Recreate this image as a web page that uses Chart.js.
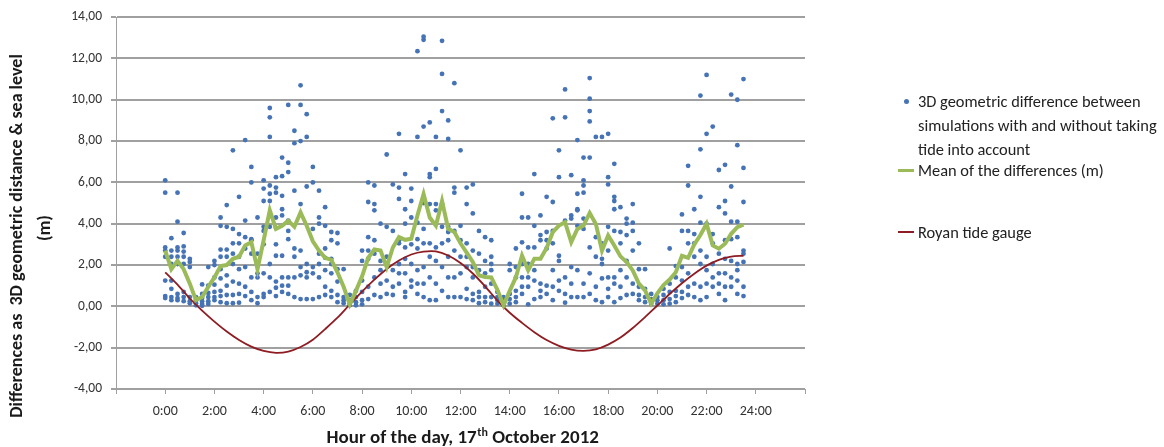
<!DOCTYPE html>
<html>
<head>
<meta charset="utf-8">
<title>Tide and 3D geometric differences</title>
<script src="https://cdn.jsdelivr.net/npm/chart.js@4.4.1/dist/chart.umd.min.js"></script>
<style>
  html, body { margin: 0; padding: 0; background: #fff; }
  #wrap { position: relative; width: 1164px; height: 447px; }
  #legend { position: absolute; left: 0; top: 0; font-family: Carlito, Lato, "Open Sans", sans-serif; font-size: 16.4px; color: #222; }
  .item { position: absolute; left: 918px; line-height: 24px; white-space: nowrap; }
  .mark { position: absolute; }
</style>
</head>
<body>
<div id="wrap">
  <canvas id="chart" width="1164" height="447"></canvas>
  <div id="legend"></div>
</div>
<script>
// time slots of the individual differences and of the mean (every 15 min)
const slotTimes = [
  '0:00','0:15','0:30','0:45','1:00','1:15','1:30','1:45','2:00','2:15','2:30','2:45',
  '3:00','3:15','3:30','3:45','4:00','4:15','4:30','4:45','5:00','5:15','5:30','5:45',
  '6:00','6:15','6:30','6:45','7:00','7:15','7:30','7:45','8:00','8:15','8:30','8:45',
  '9:00','9:15','9:30','9:45','10:00','10:15','10:30','10:45','11:00','11:15','11:30','11:45',
  '12:00','12:15','12:30','12:45','13:00','13:15','13:30','13:45','14:00','14:15','14:30','14:45',
  '15:00','15:15','15:30','15:45','16:00','16:15','16:30','16:45','17:00','17:15','17:30','17:45',
  '18:00','18:15','18:30','18:45','19:00','19:15','19:30','19:45','20:00','20:15','20:30','20:45',
  '21:00','21:15','21:30','21:45','22:00','22:15','22:30','22:45','23:00','23:15','23:30'
];

// 3D geometric differences (m), one list per time slot
const diffValues = [
  [6.1, 5.5, 2.85, 2.7, 2.4, 1.25, 0.5, 0.4],
  [3.3, 2.7, 2.4, 2.05, 1.25, 0.85, 0.45, 0.3],
  [5.5, 4.1, 2.85, 2.7, 2.4, 2.05, 0.6, 0.4, 0.3],
  [3.55, 2.9, 2.65, 2.4, 2.05, 0.7, 0.45, 0.25],
  [2.3, 2.15, 1.9, 0.45, 0.25, 0.15],
  [0.45, 0.3, 0.15, 0.05],
  [1.06, 0.6, 0.4, 0.25, 0.12, 0.03],
  [1.9, 1.0, 0.65, 0.45, 0.25, 0.12],
  [2.2, 2.0, 1.4, 1.05, 0.7, 0.45, 0.3],
  [4.3, 3.9, 2.75, 2.4, 1.8, 1.35, 0.75, 0.5, 0.2],
  [4.9, 3.85, 2.75, 2.4, 1.5, 1.0, 0.55, 0.15],
  [7.55, 3.75, 3.05, 2.55, 2.05, 1.2, 0.55, 0.15],
  [5.3, 3.5, 3.05, 2.4, 1.8, 1.1, 0.6, 0.18],
  [8.05, 4.15, 3.35, 2.8, 1.9, 0.95, 0.5],
  [6.75, 6.0, 3.25, 3.2, 2.55, 1.4, 0.7, 0.3],
  [4.3, 2.55, 2.05, 1.6, 1.4, 0.45, 0.15],
  [6.1, 5.7, 5.1, 3.85, 3.65, 3.0, 1.6, 0.6, 0.45],
  [9.6, 9.15, 8.2, 5.85, 5.45, 5.1, 3.85, 2.05, 1.4, 0.7],
  [6.25, 5.75, 5.5, 4.3, 3.8, 3.0, 2.45, 1.2, 0.9, 0.5],
  [7.2, 6.3, 5.35, 4.7, 4.4, 2.45, 1.4, 1.0, 0.7],
  [9.75, 6.95, 6.5, 4.15, 3.65, 3.25, 1.4, 1.0, 0.6],
  [8.5, 7.9, 5.6, 2.8, 2.4, 1.4, 0.45],
  [10.7, 9.75, 8.0, 4.95, 2.7, 1.9, 1.5, 0.35],
  [9.3, 8.2, 5.8, 2.05, 1.65, 1.4, 0.35],
  [6.75, 6.0, 3.75, 1.9, 1.6, 0.35],
  [5.6, 4.3, 4.0, 2.55, 2.05, 1.4, 0.45],
  [4.8, 3.9, 2.8, 2.35, 1.75, 0.95, 0.55],
  [3.6, 3.2, 2.3, 2.05, 1.6, 0.75, 0.45],
  [3.55, 3.05, 1.8, 1.2, 0.55, 0.2],
  [1.8, 0.45, 0.3, 0.15],
  [0.55, 0.3, 0.13, 0.05],
  [0.75, 0.45, 0.2, 0.05],
  [2.7, 2.2, 1.25, 0.7, 0.3, 0.1],
  [6.0, 5.05, 3.35, 2.7, 2.3, 0.95, 0.35],
  [5.85, 4.95, 4.65, 3.2, 2.55, 1.4, 0.55],
  [4.0, 2.2, 1.75, 1.1, 0.45],
  [7.35, 3.85, 2.4, 1.25, 0.6],
  [5.9, 3.65, 1.75, 0.95, 0.55],
  [8.35, 5.75, 5.2, 3.2, 3.05, 2.05, 1.6, 1.1],
  [6.4, 4.7, 4.0, 2.85, 2.3, 1.6, 0.7, 0.45],
  [5.7, 5.1, 4.3, 3.0, 2.05, 1.25, 0.95],
  [12.35, 8.2, 4.05, 3.25, 2.8, 1.75, 1.1, 0.6],
  [13.05, 12.9, 8.7, 5.0, 3.75, 3.05, 1.9, 1.1, 0.45],
  [8.9, 6.4, 6.25, 4.95, 3.05, 2.4, 1.4, 0.3],
  [8.2, 6.65, 4.95, 4.65, 2.85, 2.2, 1.1, 0.3],
  [12.85, 11.25, 9.45, 4.95, 3.85, 3.05, 1.9, 0.75],
  [9.0, 8.1, 3.85, 3.6, 3.2, 2.4, 1.4, 0.45],
  [10.8, 5.75, 5.5, 3.65, 2.7, 1.4, 0.45],
  [7.55, 3.9, 3.2, 2.4, 1.6, 0.45],
  [5.75, 4.95, 3.05, 2.4, 1.9, 0.85, 0.35],
  [5.9, 4.5, 2.7, 1.9, 1.4, 0.6, 0.3],
  [3.65, 2.55, 1.75, 0.7, 0.45, 0.15],
  [3.35, 2.2, 1.6, 0.95, 0.45, 0.2],
  [3.2, 2.4, 2.05, 1.75, 1.1, 0.45, 0.13],
  [0.7, 0.45, 0.3, 0.13],
  [0.45, 0.3, 0.13, 0.05],
  [2.05, 1.75, 0.6, 0.35, 0.13],
  [2.8, 1.9, 1.4, 0.75, 0.45, 0.2],
  [5.45, 4.3, 3.1, 2.05, 1.4, 0.95, 0.6],
  [4.3, 2.85, 2.05, 1.4, 0.95, 0.1],
  [6.4, 3.9, 2.85, 1.75, 1.25, 0.35],
  [4.4, 3.45, 3.2, 1.1, 0.75, 0.45],
  [5.3, 3.6, 3.2, 2.8, 1.0, 0.6],
  [9.1, 5.05, 3.65, 3.05, 1.75, 0.95, 0.3],
  [7.55, 6.25, 2.45, 2.2, 1.25, 0.75],
  [10.5, 9.15, 4.15, 1.4, 0.6, 0.18],
  [6.35, 4.4, 4.25, 1.9, 1.1, 0.45],
  [8.05, 5.45, 4.7, 4.65, 3.9, 1.75, 0.45],
  [7.2, 6.1, 5.85, 5.5, 4.25, 3.75, 1.1, 0.45],
  [11.05, 10.05, 9.45, 8.95, 7.2, 2.85, 1.6, 0.6],
  [8.2, 3.35, 2.4, 0.95, 0.3],
  [8.2, 3.05, 2.3, 2.05, 1.35, 0.2],
  [8.35, 6.25, 5.9, 3.85, 2.7, 1.4, 0.85, 0.45],
  [6.9, 5.3, 5.1, 4.7, 3.65, 1.4, 1.1, 0.2],
  [4.8, 3.6, 3.05, 1.75, 0.95, 0.4],
  [4.25, 4.0, 3.45, 2.2, 1.4, 0.55],
  [4.95, 4.05, 3.65, 2.7, 1.1, 0.6],
  [3.05, 1.8, 0.95, 0.55, 0.3],
  [1.8, 0.85, 0.45, 0.2],
  [0.6, 0.35, 0.13],
  [0.45, 0.3, 0.13],
  [0.85, 0.55, 0.3, 0.1],
  [2.8, 1.1, 0.7, 0.35, 0.13],
  [1.95, 1.4, 0.75, 0.5, 0.2],
  [4.45, 3.65, 1.9, 1.25, 0.7, 0.4],
  [6.8, 5.85, 3.65, 3.05, 1.6, 0.95, 0.55],
  [4.7, 3.5, 3.05, 2.4, 1.1, 0.45],
  [10.2, 7.6, 5.3, 4.05, 2.7, 2.05, 0.95, 0.3],
  [11.2, 8.35, 4.0, 2.4, 1.75, 1.1, 0.45],
  [8.7, 3.5, 3.05, 2.05, 1.4, 0.95],
  [6.6, 4.8, 2.55, 1.6, 1.1, 0.6],
  [6.85, 5.1, 4.5, 3.2, 2.3, 1.6, 0.95, 0.3],
  [10.25, 5.8, 4.1, 3.25, 2.2, 1.4, 0.95],
  [10.0, 7.8, 4.1, 3.35, 2.05, 1.75, 1.25, 0.6],
  [11.0, 6.7, 5.05, 2.7, 2.55, 2.15, 0.95, 0.5]
];

// mean of the differences (m), same slots
const meanValues = [
  2.70, 1.80, 2.20, 1.80, 1.10, 0.30, 0.45, 0.95, 1.40, 1.95, 2.00, 2.30,
  2.40, 2.95, 3.10, 1.80, 3.20, 4.65, 3.75, 3.90, 4.15, 3.85, 4.55, 3.90,
  3.15, 2.70, 2.35, 2.25, 1.65, 0.95, 0.10, 0.75, 1.45, 2.35, 2.75, 2.70,
  1.90, 2.85, 3.35, 3.22, 3.27, 4.40, 5.44, 4.30, 3.90, 5.10, 3.75, 3.60,
  3.05, 2.60, 2.15, 1.50, 1.42, 1.40, 0.80, 0.05, 0.75, 1.40, 2.46, 1.74,
  2.30, 2.30, 2.83, 3.59, 3.91, 4.07, 3.11, 3.75, 3.91, 4.52, 3.99, 2.70,
  3.43, 2.95, 2.42, 2.14, 1.74, 1.10, 0.77, 0.13, 0.63, 1.03, 1.30, 1.65,
  2.45, 2.35, 3.00, 3.45, 4.00, 2.95, 2.79, 3.03, 3.51, 3.83, 3.95
];

// Royan tide gauge (m), every 30 min
const tideTimes = [
  '0:00','0:30','1:00','1:30','2:00','2:30','3:00','3:30','4:00','4:30','5:00','5:30',
  '6:00','6:30','7:00','7:30','8:00','8:30','9:00','9:30','10:00','10:30','11:00','11:30',
  '12:00','12:30','13:00','13:30','14:00','14:30','15:00','15:30','16:00','16:30','17:00','17:30',
  '18:00','18:30','19:00','19:30','20:00','20:30','21:00','21:30','22:00','22:30','23:00','23:30'
];
const tideValues = [
  1.65, 1.05, 0.38, -0.21, -0.74, -1.22, -1.63, -1.95, -2.16, -2.25, -2.19, -1.97,
  -1.62, -1.10, -0.55, 0.09, 0.71, 1.29, 1.81, 2.22, 2.51, 2.65, 2.66, 2.46,
  2.10, 1.59, 0.97, 0.28, -0.31, -0.80, -1.25, -1.63, -1.91, -2.09, -2.15, -2.08,
  -1.85, -1.51, -1.05, -0.52, 0.04, 0.60, 1.12, 1.58, 1.97, 2.25, 2.41, 2.45
];

const xTicks = [-2, 0, 2, 4, 6, 8, 10, 12, 14, 16, 18, 20, 22, 24, 26];
const seriesNames = [
  ['3D geometric difference between', 'simulations with and without taking', 'tide into account'],
  ['Mean of the differences (m)'],
  ['Royan tide gauge']
];
const yTitle = ['Differences as  3D geometric distance & sea level', '(m)'];
const xTitle = ['Hour of the day, 17', 'th', ' October 2012'];

const FONT = 'Carlito, Lato, "Open Sans", sans-serif';
const toHours = (t) => { const p = t.split(':'); return +p[0] + (+p[1]) / 60; };

const diffPoints = [];
diffValues.forEach((vals, i) => vals.forEach(v => diffPoints.push({ x: toHours(slotTimes[i]), y: v })));
const meanPoints = meanValues.map((v, i) => ({ x: toHours(slotTimes[i]), y: v }));
const tidePoints = tideValues.map((v, i) => ({ x: toHours(tideTimes[i]), y: v }));

const colors = ['#4573b5', '#9bbb59', '#8e1c22'];

// axis titles drawn by hand (superscript in the x title, 2-line y title)
const axisTitles = {
  id: 'axisTitles',
  afterDraw(chart) {
    const { ctx, chartArea } = chart;
    ctx.save();
    ctx.fillStyle = '#1a1a1a';
    ctx.font = 'bold 18px ' + FONT;
    ctx.textAlign = 'center';
    ctx.textBaseline = 'middle';
    ctx.save();
    ctx.translate(17, 236);
    ctx.rotate(-Math.PI / 2);
    ctx.fillText(yTitle[0], 0, 0);
    ctx.restore();
    ctx.save();
    ctx.translate(45, 228);
    ctx.rotate(-Math.PI / 2);
    ctx.fillText(yTitle[1], 0, 0);
    ctx.restore();

    // x title
    const big = 'bold 19px ' + FONT, small = 'bold 12px ' + FONT;
    ctx.font = big; const w1 = ctx.measureText(xTitle[0]).width, w3 = ctx.measureText(xTitle[2]).width;
    ctx.font = small; const w2 = ctx.measureText(xTitle[1]).width;
    let x = (chartArea.left + chartArea.right) / 2 - (w1 + w2 + w3) / 2 + 2;
    const y = 443;
    ctx.textAlign = 'left';
    ctx.textBaseline = 'alphabetic';
    ctx.font = big; ctx.fillText(xTitle[0], x, y); x += w1;
    ctx.font = small; ctx.fillText(xTitle[1], x + 0.5, y - 7); x += w2 + 0.5;
    ctx.font = big; ctx.fillText(xTitle[2], x, y);
    ctx.restore();
  }
};

new Chart(document.getElementById('chart'), {
  type: 'scatter',
  data: {
    datasets: [
      {
        label: seriesNames[0].join(' '),
        data: diffPoints,
        backgroundColor: colors[0],
        borderColor: colors[0],
        borderWidth: 0,
        pointRadius: 2.4,
        pointHoverRadius: 2.4,
        order: 3
      },
      {
        type: 'line',
        label: seriesNames[1][0],
        data: meanPoints,
        borderColor: colors[1],
        borderWidth: 4,
        pointRadius: 0,
        tension: 0,
        fill: false,
        order: 1
      },
      {
        type: 'line',
        label: seriesNames[2][0],
        data: tidePoints,
        borderColor: colors[2],
        borderWidth: 1.8,
        pointRadius: 0,
        tension: 0.3,
        fill: false,
        order: 2
      }
    ]
  },
  options: {
    responsive: false,
    animation: false,
    layout: { padding: { top: 16, right: 359, left: 0, bottom: 0 } },
    plugins: { legend: { display: false }, tooltip: { enabled: false } },
    scales: {
      x: {
        type: 'linear',
        min: -2,
        max: 26,
        afterFit(scale) { scale.height = 58; },
        afterBuildTicks(scale) { scale.ticks = xTicks.map(v => ({ value: v })); },
        ticks: {
          autoSkip: false,
          maxRotation: 0,
          padding: 9,
          color: '#333',
          font: { size: 14, family: FONT },
          callback: (v) => (v < 0 || v > 24 ? '' : v + ':00')
        },
        grid: { drawOnChartArea: false, drawTicks: true, tickLength: 5, color: '#a0a0a0' },
        border: { color: '#a0a0a0', width: 1 }
      },
      y: {
        min: -4,
        max: 14,
        afterFit(scale) { scale.width = 116; },
        ticks: {
          stepSize: 2,
          padding: 9,
          color: '#333',
          font: { size: 13.5, family: FONT },
          callback: (v) => v.toFixed(2).replace('.', ',')
        },
        grid: { color: '#a0a0a0', lineWidth: 2, tickLength: 5 },
        border: { color: '#a0a0a0', width: 1 }
      }
    }
  },
  plugins: [axisTitles]
});

// legend on the right
const legend = document.getElementById('legend');
const itemTops = [89, 158, 220];
seriesNames.forEach((lines, i) => {
  const item = document.createElement('div');
  item.className = 'item';
  item.style.top = itemTops[i] + 'px';
  item.innerHTML = lines.join('<br>');
  legend.appendChild(item);
  const mark = document.createElement('div');
  mark.className = 'mark';
  mark.style.background = colors[i];
  if (i === 0) {
    Object.assign(mark.style, { left: '904px', top: (itemTops[i] + 10) + 'px', width: '5px', height: '5px', borderRadius: '50%' });
  } else {
    Object.assign(mark.style, { left: '898px', top: (itemTops[i] + 11) + 'px', width: '16px', height: i === 1 ? '3px' : '2px' });
  }
  legend.appendChild(mark);
});
</script>
</body>
</html>
